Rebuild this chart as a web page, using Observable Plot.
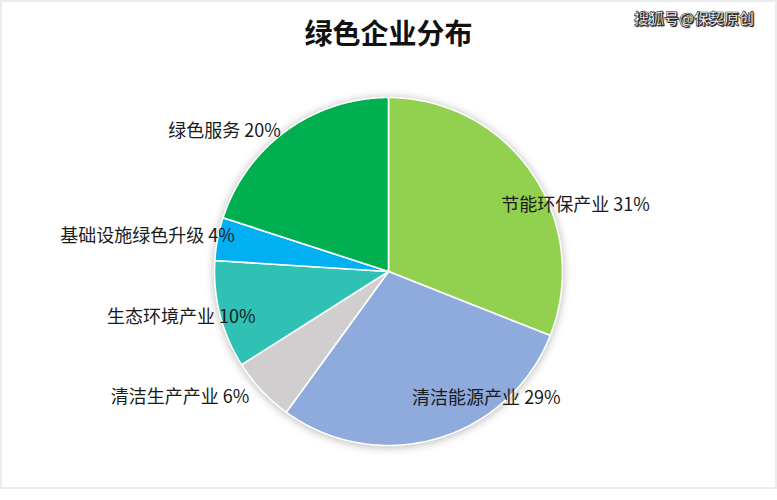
<!DOCTYPE html>
<html><head><meta charset="utf-8">
<script src="https://cdn.jsdelivr.net/npm/d3@7"></script>
<script src="https://cdn.jsdelivr.net/npm/@observablehq/plot@0.6"></script>
<style>
html,body{margin:0;padding:0;background:#fff;}
#wrap{position:relative;width:777px;height:500px;overflow:hidden;font-family:"Noto Sans CJK SC","Noto Sans",sans-serif;}
#frame{position:absolute;left:0;top:0;width:773px;height:485px;border:2px solid #ececec;box-sizing:content-box;pointer-events:none;}
#title{position:absolute;left:0;width:777px;top:12px;text-align:center;font-size:28px;font-weight:700;color:#111;line-height:40px;}
#wm{position:absolute;left:634px;top:7px;font-size:15px;font-weight:700;color:#fff;-webkit-text-stroke:0.6px #222;text-shadow:1px 1px 1px #000;letter-spacing:0px;}
#chart{position:absolute;left:0;top:0;}
</style></head>
<body><div id="wrap"><div id="chart"></div><div id="frame"></div><div id="title">绿色企业分布</div><div id="wm">搜狐号@保契原创</div></div>
<script>
const categories = ["节能环保产业","清洁能源产业","清洁生产产业","生态环境产业","基础设施绿色升级","绿色服务"];
const values = [31, 29, 6, 10, 4, 20];
const colors = ["#92D050","#8FAADC","#D0CECE","#2EC1B4","#00B0F0","#00B050"];
// label layout (radius factor, angle shift in degrees, relative to slice middle)
const labelRadius = [1.14, 0.92, 1.40, 1.22, 1.40, 1.24];
const labelShift = [14.8, -21.5, 12, 1.9, -2.5, -13.5];

const W = 777, H = 500, CX = 388, CY = 271, R = 174;
const total = d3.sum(values);
let acc = 0;
const slices = categories.map((c, i) => {
  const a0 = acc / total * 2 * Math.PI;
  acc += values[i];
  const a1 = acc / total * 2 * Math.PI;
  return {category: c, value: values[i], a0, a1, color: colors[i]};
});
const pts = [];
slices.forEach(s => {
  pts.push({category: s.category, x: 0, y: 0});
  const n = Math.max(4, Math.ceil((s.a1 - s.a0) / (Math.PI / 360)));
  for (let k = 0; k <= n; k++) {
    const a = s.a0 + (s.a1 - s.a0) * k / n;
    pts.push({category: s.category, x: Math.sin(a), y: Math.cos(a)});
  }
  pts.push({category: s.category, x: 0, y: 0});
});
const labels = slices.map((s, i) => {
  const a = (s.a0 + s.a1) / 2 + labelShift[i] * Math.PI / 180;
  return {text: `${s.category} ${s.value}%`, x: labelRadius[i] * Math.sin(a), y: labelRadius[i] * Math.cos(a)};
});

const chart = Plot.plot({
  width: W, height: H,
  margin: 0,
  x: {domain: [-CX / R, (W - CX) / R], range: [0, W], axis: null},
  y: {domain: [-(H - CY) / R, CY / R], range: [H, 0], axis: null},
  color: {domain: categories, range: colors},
  style: {background: "transparent", fontFamily: "'Noto Sans CJK SC', sans-serif"},
  marks: [
    Plot.dot([{x: 0, y: 0}], {x: "x", y: "y", r: R + 1, fill: "#000", fillOpacity: 0.28, stroke: "none", dy: 1}),
    Plot.line(pts, {x: "x", y: "y", z: "category", fill: "category", stroke: "#fff", strokeWidth: 1.6, strokeLinejoin: "round", curve: "linear"}),
    Plot.text(labels, {x: "x", y: "y", text: "text", fontSize: 18, fill: "#1a1a1a", textAnchor: "middle", lineAnchor: "middle"})
  ]
});
document.getElementById("chart").appendChild(chart);
const dotG = chart.querySelector('g[aria-label="dot"]');
if (dotG) dotG.setAttribute("style", "filter: blur(4px)");
</script>
</body></html>
